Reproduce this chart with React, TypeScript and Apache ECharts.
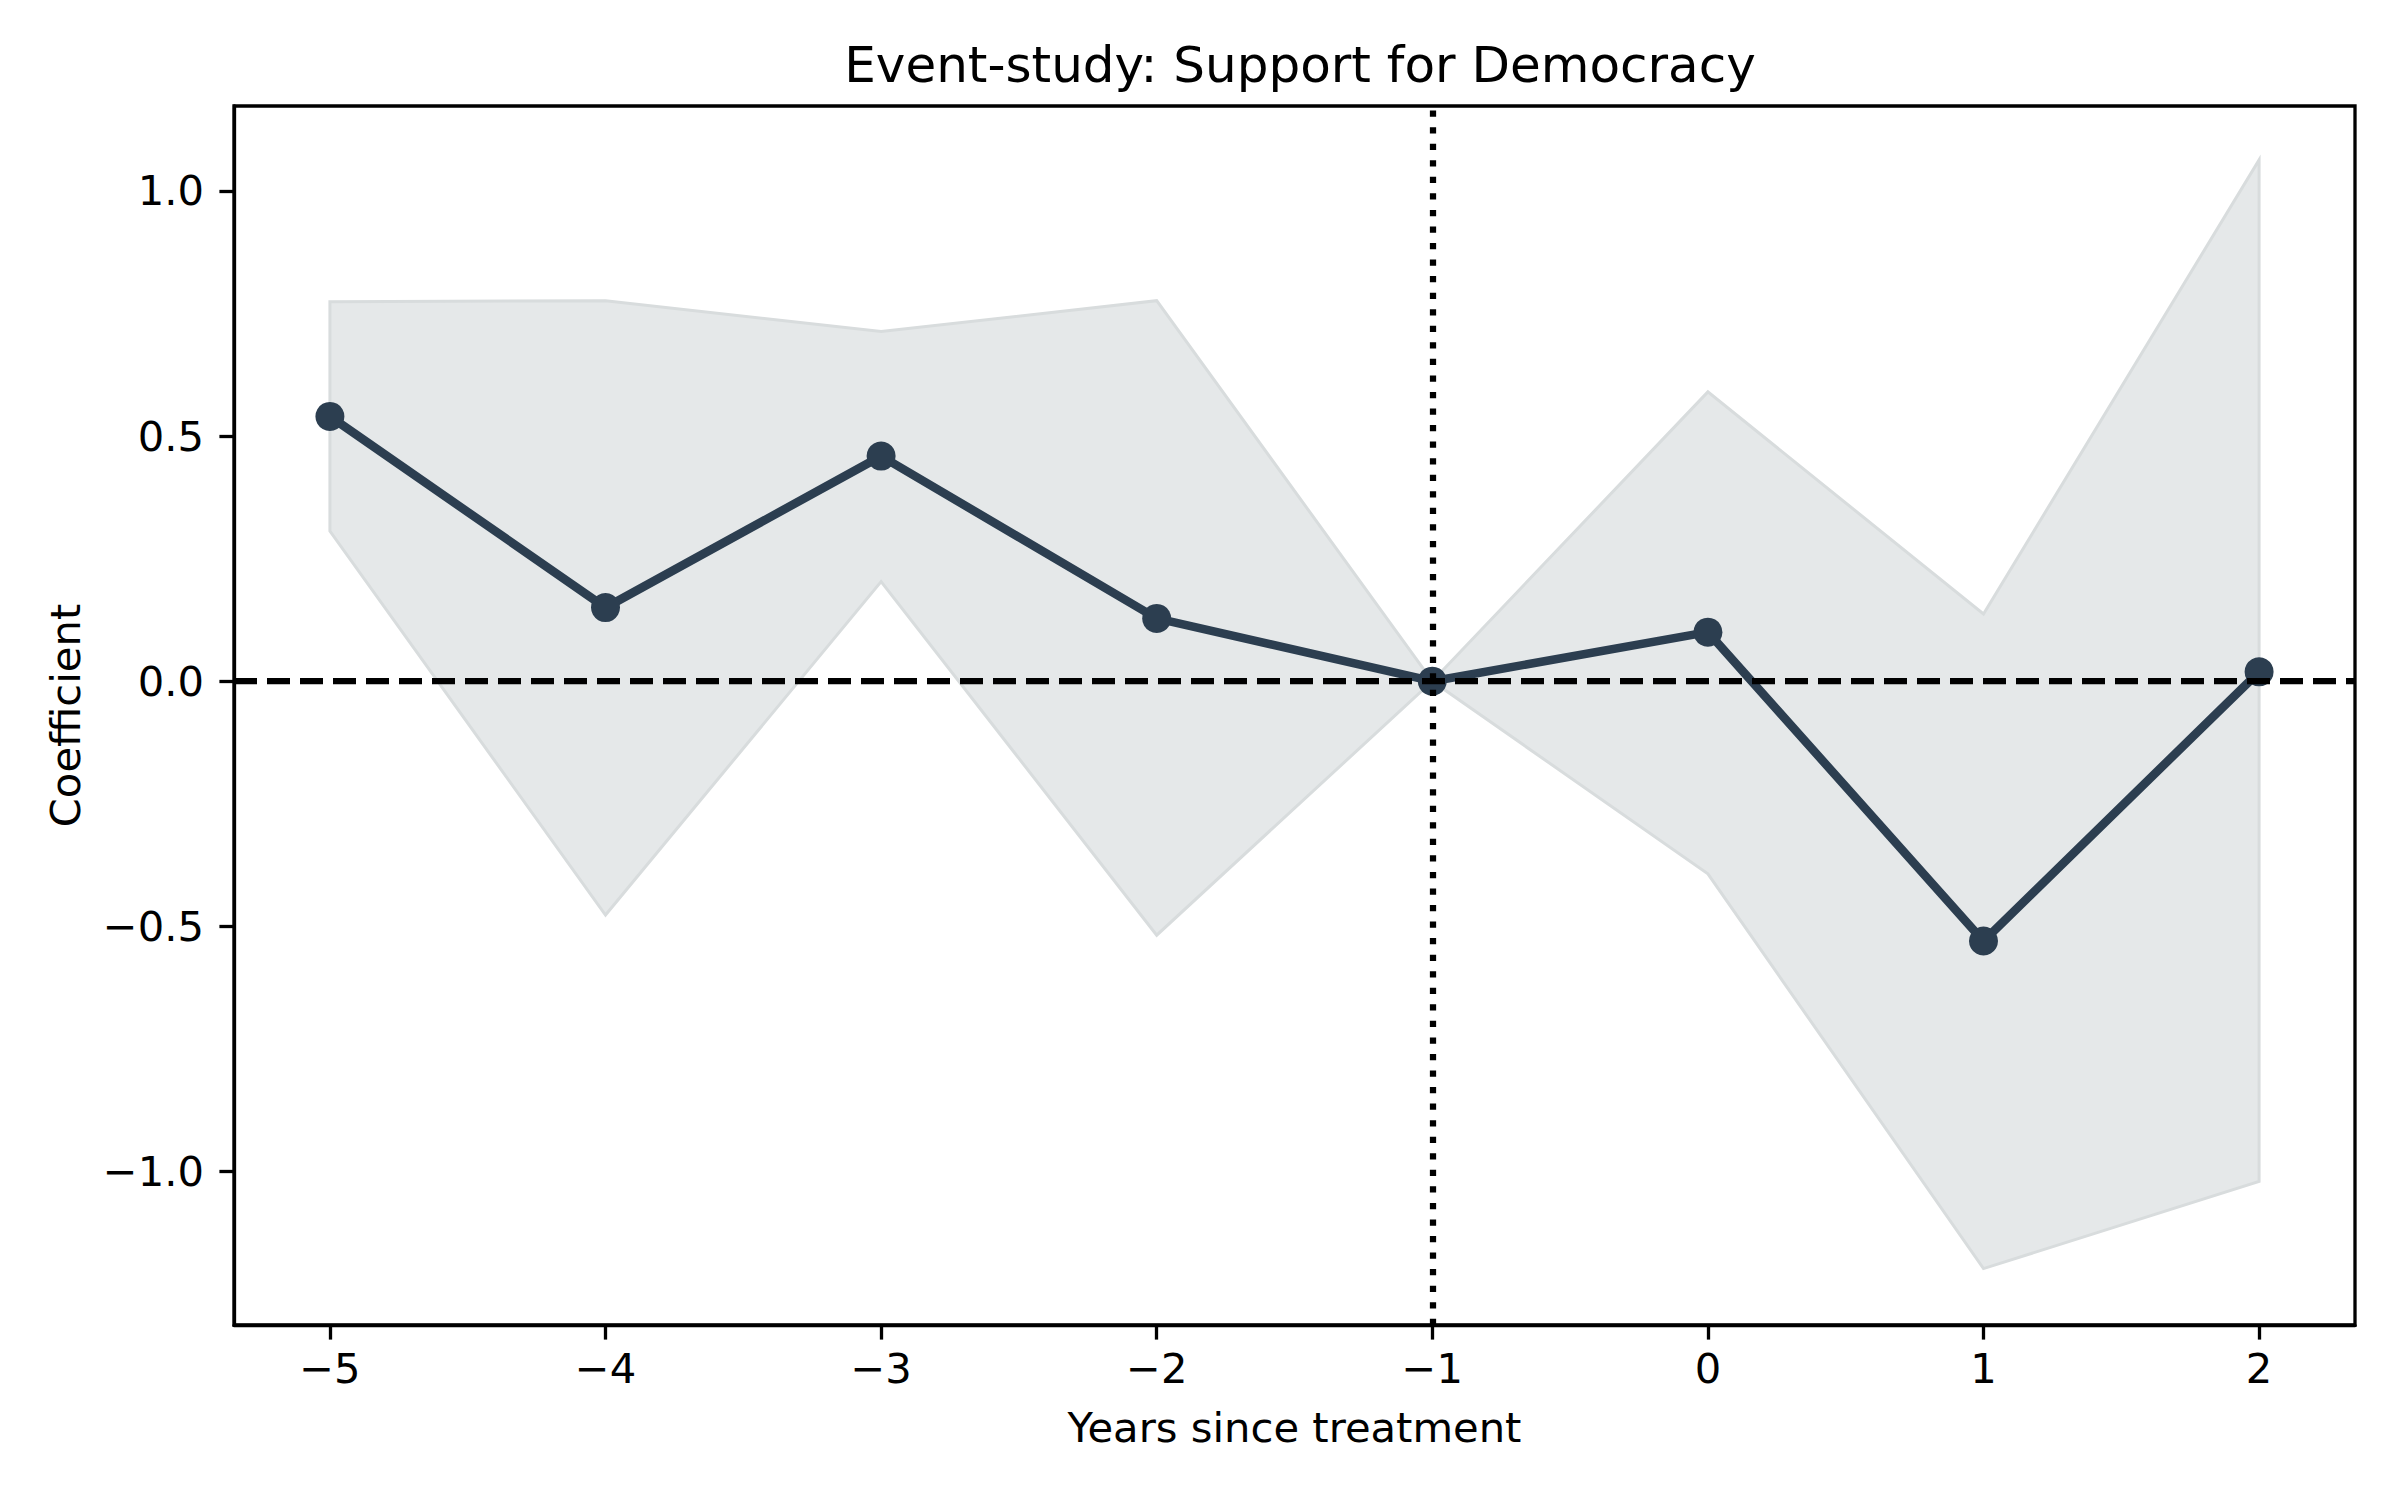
import React, { useEffect, useRef } from "react";
import * as echarts from "echarts";

const years = [-5, -4, -3, -2, -1, 0, 1, 2];
const coef = [0.54, 0.15, 0.459, 0.128, 0.0, 0.1, -0.53, 0.019];
const ciUpper = [0.774, 0.776, 0.713, 0.776, 0.0, 0.59, 0.137, 1.063];
const ciLower = [0.306, -0.477, 0.203, -0.518, 0.0, -0.393, -1.198, -1.02];
const xTicks = [-5, -4, -3, -2, -1, 0, 1, 2];
const yTicks = [-1.0, -0.5, 0.0, 0.5, 1.0];

const FONT = "DejaVu Sans";
const fmtX = (v: number) => (v < 0 ? "\u2212" + Math.abs(v) : String(v));
const fmtY = (v: number) => (v < 0 ? "\u2212" + Math.abs(v).toFixed(1) : v.toFixed(1));

export default function App() {
  const ref = useRef<HTMLDivElement>(null);
  useEffect(() => {
    if (!ref.current) return;
    const chart = echarts.init(ref.current, null, { renderer: "svg" });
    const band = years.map((x, i) => [x, ciLower[i], ciUpper[i]]);
    const option = {
      animation: false,
      backgroundColor: "#ffffff",
      title: {
        text: "Event-study: Support for Democracy",
        left: 1295,
        top: 35,
        textAlign: "center",
        textStyle: { fontFamily: FONT, fontSize: 50, fontWeight: "normal", color: "#000" },
      },
      grid: {
        left: 234,
        top: 106,
        right: 45,
        bottom: 175,
        show: true,
        borderColor: "#000",
        borderWidth: 3.3,
        backgroundColor: "transparent",
      },
      xAxis: {
        type: "value",
        min: -5.348,
        max: 2.348,
        splitLine: { show: false },
        axisLine: { show: true, onZero: false, lineStyle: { color: "#000", width: 3.3 } },
        axisTick: {
          show: true,
          length: 14.6,
          inside: false,
          customValues: xTicks,
          lineStyle: { color: "#000", width: 3.3 },
        },
        axisLabel: {
          customValues: xTicks,
          formatter: fmtX,
          margin: 22,
          fontFamily: FONT,
          fontSize: 41.7,
          color: "#000",
        },
        name: "Years since treatment",
        nameLocation: "middle",
        nameGap: 81,
        nameTextStyle: { fontFamily: FONT, fontSize: 41.7, color: "#000" },
      },
      yAxis: {
        type: "value",
        min: -1.313,
        max: 1.173,
        splitLine: { show: false },
        axisLine: { show: true, onZero: false, lineStyle: { color: "#000", width: 3.3 } },
        axisTick: {
          show: true,
          length: 14.6,
          inside: false,
          customValues: yTicks,
          lineStyle: { color: "#000", width: 3.3 },
        },
        axisLabel: {
          customValues: yTicks,
          formatter: fmtY,
          margin: 30,
          fontFamily: FONT,
          fontSize: 41.7,
          color: "#000",
        },
        name: "Coefficient",
        nameLocation: "middle",
        nameGap: 148,
        nameTextStyle: { fontFamily: FONT, fontSize: 41.7, color: "#000" },
      },
      series: [
        {
          type: "custom",
          z: 1,
          data: band,
          renderItem: (params: any, api: any) => {
            if (params.dataIndex !== 0) return null;
            const up = band.map((d) => api.coord([d[0], d[2]]));
            const lo = band.map((d) => api.coord([d[0], d[1]])).reverse();
            return {
              type: "polygon",
              shape: { points: up.concat(lo) },
              style: { fill: "#e5e8e9", stroke: "#d8dcdd", lineWidth: 3 },
            };
          },
          silent: true,
        },
        {
          type: "line",
          z: 3,
          data: years.map((x, i) => [x, coef[i]]),
          symbol: "circle",
          symbolSize: 29,
          showSymbol: true,
          lineStyle: { color: "#2c3e50", width: 8.6 },
          itemStyle: { color: "#2c3e50" },
          silent: true,
        },
        {
          type: "line",
          z: 5,
          data: [[-1, 0]],
          showSymbol: false,
          symbolSize: 0,
          lineStyle: { width: 0 },
          silent: true,
          markLine: {
            silent: true,
            symbol: "none",
            label: { show: false },
            animation: false,
            data: [
              {
                yAxis: 0,
                lineStyle: { color: "#000", width: 6.25, type: [23, 10], cap: "butt" },
              },
              {
                xAxis: -1,
                lineStyle: { color: "#000", width: 6.25, type: [6.25, 10.3], cap: "butt" },
              },
            ],
          },
        },
      ],
    };
    chart.setOption(option as any);
    return () => chart.dispose();
  }, []);
  return (
    <div
      ref={ref}
      style={{ position: "fixed", left: 0, top: 0, width: 2400, height: 1500, background: "#fff" }}
    />
  );
}
